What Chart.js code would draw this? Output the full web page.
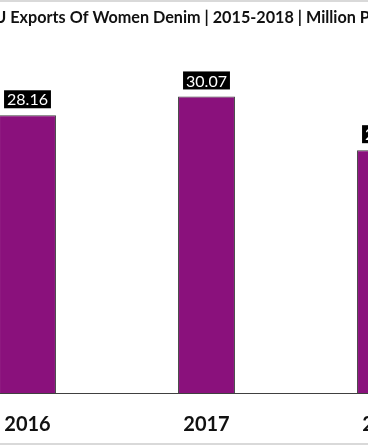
<!DOCTYPE html>
<html>
<head>
<meta charset="utf-8">
<script src="https://cdn.jsdelivr.net/npm/chart.js@4"></script>
<style>
  html, body { margin: 0; padding: 0; background: #fff; }
  #wrap {
    position: relative; width: 368px; height: 445px; overflow: hidden;
    box-sizing: border-box; border-top: 2px solid #d9d9d9; border-bottom: 2px solid #d9d9d9;
  }
  #exportsChart { position: absolute; left: -62px; top: -2px; }
</style>
</head>
<body>
<div id="wrap">
  <canvas id="exportsChart" width="537" height="445"></canvas>
</div>
<script>
const years = ["2016", "2017", "2018"];
const exportsMillion = [28.16, 30.07, 24.62];
const chartTitle = "EU Exports Of Women Denim | 2015-2018 | Million Pieces";

// title drawn by hand so it can sit a little left of centre, like the source
const titlePlugin = {
  id: "titlePlugin",
  afterDraw(chart) {
    const ctx = chart.ctx;
    ctx.save();
    ctx.font = "bold 16.2px Lato";
    ctx.fillStyle = "#111";
    ctx.textAlign = "center";
    ctx.textBaseline = "middle";
    ctx.fillText(chartTitle, chart.width / 2 - 11, 18);
    ctx.restore();
  },
};

// draws the black value boxes above each bar
const valueBoxes = {
  id: "valueBoxes",
  afterDatasetsDraw(chart) {
    const ctx = chart.ctx;
    const meta = chart.getDatasetMeta(0);
    ctx.save();
    ctx.font = "16px Lato";
    ctx.textAlign = "center";
    ctx.textBaseline = "middle";
    meta.data.forEach((bar, i) => {
      const text = exportsMillion[i].toFixed(2);
      const w = ctx.measureText(text).width + 6;
      const h = 18;
      const bottom = bar.y - 7;
      ctx.fillStyle = "#000";
      ctx.fillRect(bar.x - w / 2, bottom - h, w, h);
      ctx.fillStyle = "#fff";
      ctx.fillText(text, bar.x, bottom - h / 2 + 1);
    });
    ctx.restore();
  },
};

const ctx = document.getElementById("exportsChart").getContext("2d");
new Chart(ctx, {
  type: "bar",
  data: {
    labels: years,
    datasets: [
      {
        label: "Exports",
        data: exportsMillion,
        backgroundColor: "#8a117c",
        borderColor: "#3f3f3f",
        borderWidth: 1,
        borderSkipped: "bottom",
        barPercentage: 0.318,
        categoryPercentage: 1,
      },
    ],
  },
  options: {
    responsive: false,
    animation: false,
    layout: { padding: { top: 35 } },
    plugins: {
      legend: { display: false },
      tooltip: { enabled: false },
      title: { display: false },
    },
    scales: {
      x: {
        grid: { display: false },
        border: { display: true, color: "#404040", width: 1 },
        ticks: {
          color: "#111",
          font: { family: "Lato", size: 20, weight: "bold" },
          padding: 12,
        },
        afterFit(scale) {
          scale.height = 52;
        },
      },
      y: {
        display: false,
        min: 0,
        max: 36.3,
      },
    },
  },
  plugins: [valueBoxes, titlePlugin],
});
</script>
</body>
</html>
